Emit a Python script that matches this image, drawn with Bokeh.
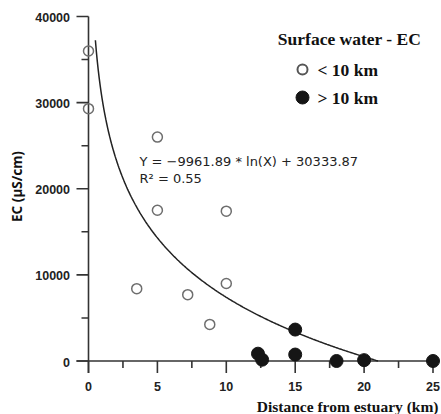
import numpy as np
from bokeh.plotting import figure
from bokeh.models import Range1d
from bokeh.core.properties import value
from bokeh.embed import file_html
from bokeh.resources import INLINE

# ---------------- data ----------------
near_x = [0, 0, 5, 5, 10, 3.5, 7.2, 10, 8.8]
near_y = [36000, 29300, 26000, 17500, 17400, 8400, 7700, 9000, 4250]
far_x = [12.3, 12.6, 15, 15, 18, 20, 25]
far_y = [850, 150, 3650, 750, 0, 100, 0]

fit_a = -9961.89
fit_b = 30333.87
fit_x_start = 0.5

x_major = [0, 5, 10, 15, 20, 25]
x_minor = [2.5, 7.5, 12.5, 17.5, 22.5]
y_major = [0, 10000, 20000, 30000, 40000]
y_minor = [5000, 15000, 25000, 35000]
x_labels = ["0", "5", "10", "15", "20", "25"]
y_labels = ["0", "10000", "20000", "30000", "40000"]

eq_text = "Y = \u22129961.89 * ln(X) + 30333.87"
r2_text = "R\u00b2 = 0.55"
legend_title = "Surface water - EC"
legend_labels = ["< 10 km", "> 10 km"]
x_title = "Distance from estuary (km)"
y_title = "EC (\u00b5S/cm)"

# ---------------- layout helpers (pixel -> data) ----------------
W, H = 441, 414
X0_PX, XS = 88.0, 13.78        # px of x=0, px per km
Y0_PX, YS = 360.5, 0.0086125   # px of y=0, px per unit


def px2x(px):
    return (px - X0_PX) / XS


def px2y(py):
    return (Y0_PX - py) / YS


p = figure(width=W, height=H, output_backend="svg", toolbar_location=None,
           x_axis_location=None, y_axis_location=None,
           x_range=Range1d(px2x(0), px2x(W)), y_range=Range1d(px2y(H), px2y(0)),
           min_border=0)
p.grid.visible = False
p.outline_line_color = None
p.background_fill_color = "white"
p.border_fill_color = "white"

AX_COL = "#333333"
AX_W = 1.6

# tick lengths in data units
xt_major = 12 / YS
xt_minor = 7 / YS
yt_major = 12 / XS
yt_minor = 7 / XS

# axis lines
p.segment(x0=[0, -yt_major], y0=[-xt_major, 0], x1=[0, x_major[-1]], y1=[y_major[-1], 0],
          line_color=AX_COL, line_width=AX_W)
# x ticks
p.segment(x0=x_major, y0=[0] * len(x_major), x1=x_major, y1=[-xt_major] * len(x_major),
          line_color=AX_COL, line_width=AX_W)
p.segment(x0=x_minor, y0=[0] * len(x_minor), x1=x_minor, y1=[-xt_minor] * len(x_minor),
          line_color=AX_COL, line_width=AX_W)
# y ticks
p.segment(x0=[0] * len(y_major), y0=y_major, x1=[-yt_major] * len(y_major), y1=y_major,
          line_color=AX_COL, line_width=AX_W)
p.segment(x0=[0] * len(y_minor), y0=y_minor, x1=[-yt_minor] * len(y_minor), y1=y_minor,
          line_color=AX_COL, line_width=AX_W)

# tick labels
p.text(x=x_major, y=[0] * len(x_major), text=x_labels, y_offset=25,
       text_align="center", text_baseline="middle", text_font=value("Liberation Sans"),
       text_font_style="bold", text_font_size="12.5px", text_color="#222222")
p.text(x=[0] * len(y_major), y=y_major, text=y_labels, x_offset=-18.5, y_offset=1,
       text_align="right", text_baseline="middle", text_font=value("Liberation Sans"),
       text_font_style="bold", text_font_size="12.5px", text_color="#222222")

# axis titles
p.text(x=[px2x(438)], y=[px2y(406)], text=[x_title], text_align="right",
       text_baseline="middle", text_font=value("Liberation Serif"), text_font_style="bold",
       text_font_size="15.5px", text_color="#111111")
p.text(x=[px2x(16)], y=[px2y(186)], text=[y_title], angle=np.pi / 2, text_align="center",
       text_baseline="middle", text_font=value("Noto Sans"), text_font_style="bold",
       text_font_size="13.5px", text_color="#111111")

# fitted curve
x_end = float(np.exp(-fit_b / fit_a))
cx = np.linspace(fit_x_start, x_end, 300)
cy = fit_a * np.log(cx) + fit_b
p.line(cx, cy, line_color="#222222", line_width=1.5)

# equation text
p.text(x=[px2x(139), px2x(139)], y=[px2y(161), px2y(178)], text=[eq_text, r2_text],
       text_align="left", text_baseline="middle", text_font=value("DejaVu Sans"),
       text_font_size="13px", text_color="#222222")

# data points
p.scatter(near_x, near_y, marker="circle", size=10, fill_color=None,
          line_color="#6e6e6e", line_width=1.5)
p.scatter(far_x, far_y, marker="circle", size=13, fill_color="#151515",
          line_color="#151515", line_width=1)

# legend
p.text(x=[px2x(349)], y=[px2y(38)], text=[legend_title], text_align="center",
       text_baseline="middle", text_font=value("Liberation Serif"), text_font_style="bold",
       text_font_size="17.5px", text_color="#111111")
p.scatter([px2x(302)], [px2y(69)], marker="circle", size=10, fill_color=None,
          line_color="#555555", line_width=2)
p.scatter([px2x(302)], [px2y(97)], marker="circle", size=13, fill_color="#151515",
          line_color="#151515")
p.text(x=[px2x(317), px2x(317)], y=[px2y(69), px2y(97)], text=legend_labels,
       text_align="left", text_baseline="middle", text_font=value("Liberation Serif"),
       text_font_style="bold", text_font_size="17.5px", text_color="#111111")

open("out.html", "w").write(file_html(p, INLINE))
